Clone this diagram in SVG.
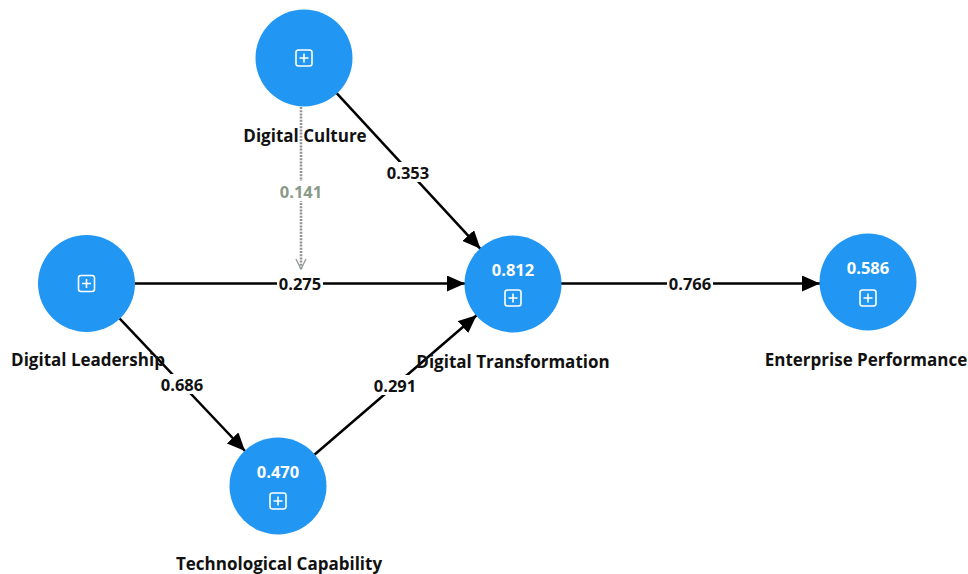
<svg xmlns="http://www.w3.org/2000/svg" width="968" height="574" viewBox="0 0 968 574">
  <defs>
    <style>
      .node circle { fill: #2196f3; }
      .name { font-family: "Open Sans", "Noto Sans", "Liberation Sans", sans-serif; font-weight: 700; font-size: 17px; fill: #111; text-anchor: middle; }
      .val { font-family: "Open Sans", "Noto Sans", "Liberation Sans", sans-serif; font-weight: 700; font-size: 16.5px; fill: #ffffff; text-anchor: middle; }
      .edge { stroke: #000; stroke-width: 2.5; fill: none; }
      .mod { stroke: #8f968f; stroke-width: 2.6; stroke-dasharray: 2 1.2; fill: none; }
      .lbl-bg { fill: #ffffff; }
      .lbl { font-family: "Open Sans", "Noto Sans", "Liberation Sans", sans-serif; font-weight: 700; font-size: 16.5px; fill: #111; text-anchor: middle; dominant-baseline: central; }
      .lbl-mod { fill: #8a9a8a; }
      .icon rect { fill: none; stroke: #ffffff; stroke-width: 1.6; }
      .icon path { stroke: #ffffff; stroke-width: 1.6; fill: none; }
    </style>
    <marker id="arrow" viewBox="0 0 18 16" refX="18" refY="8" markerWidth="18" markerHeight="16" markerUnits="userSpaceOnUse" orient="auto">
      <path d="M0,0 L18,8 L0,16 Z" fill="#000"/>
    </marker>
    <marker id="open" viewBox="0 0 12 12" refX="11" refY="6" markerWidth="12" markerHeight="12" markerUnits="userSpaceOnUse" orient="auto">
      <path d="M1,1 L11,6 L1,11" fill="none" stroke="#9aa09a" stroke-width="1.5"/>
    </marker>
    <g id="plus" class="icon">
      <rect x="-8" y="-8" width="16" height="16" rx="2.5"/>
      <path d="M0,-4.5 V4.5 M-4.5,0 H4.5"/>
    </g>
  </defs>

  <rect width="968" height="574" fill="#ffffff"/>

  <!-- paths between constructs -->
  <g id="connectors">
    <line class="edge" x1="336.6" y1="93.2" x2="480.4" y2="248.8" marker-end="url(#arrow)"/>
    <line class="edge" x1="135" y1="283.5" x2="465" y2="283.5" marker-end="url(#arrow)"/>
    <line class="edge" x1="119.5" y1="318.4" x2="245" y2="451" marker-end="url(#arrow)"/>
    <line class="edge" x1="314.4" y1="454.7" x2="476.6" y2="315.3" marker-end="url(#arrow)"/>
    <line class="edge" x1="561" y1="283.5" x2="820" y2="283.5" marker-end="url(#arrow)"/>
    <line class="mod" x1="301" y1="107" x2="301" y2="269" marker-end="url(#open)"/>

    <rect class="lbl-bg" x="385" y="162" width="46" height="20"/>
    <text class="lbl" x="408" y="172">0.353</text>
    <rect class="lbl-bg" x="277" y="274" width="46" height="19"/>
    <text class="lbl" x="300" y="283.5">0.275</text>
    <rect class="lbl-bg" x="159" y="374" width="46" height="20"/>
    <text class="lbl" x="182" y="384">0.686</text>
    <rect class="lbl-bg" x="372" y="375" width="46" height="20"/>
    <text class="lbl" x="395" y="385">0.291</text>
    <rect class="lbl-bg" x="667" y="274" width="46" height="19"/>
    <text class="lbl" x="690" y="283.5">0.766</text>
    <rect class="lbl-bg" x="278" y="181" width="46" height="20"/>
    <text class="lbl lbl-mod" x="301" y="191">0.141</text>
  </g>

  <g id="digital-culture" class="node">
    <circle cx="304" cy="58" r="48.5"/>
    <use href="#plus" x="304" y="58"/>
    <text class="name" x="305" y="142">Digital Culture</text>
  </g>

  <g id="digital-leadership" class="node">
    <circle cx="86.5" cy="283.5" r="48.5"/>
    <use href="#plus" x="86.5" y="283.5"/>
    <text class="name" x="88" y="366">Digital Leadership</text>
  </g>

  <g id="digital-transformation" class="node">
    <circle cx="513" cy="284" r="48.5"/>
    <text class="val" x="513" y="276">0.812</text>
    <use href="#plus" x="513" y="298"/>
    <text class="name" x="513" y="368">Digital Transformation</text>
  </g>

  <g id="enterprise-performance" class="node">
    <circle cx="868" cy="282" r="48.5"/>
    <text class="val" x="868" y="274">0.586</text>
    <use href="#plus" x="868" y="298"/>
    <text class="name" x="866" y="366">Enterprise Performance</text>
  </g>

  <g id="technological-capability" class="node">
    <circle cx="278" cy="486" r="48.5"/>
    <text class="val" x="278" y="478">0.470</text>
    <use href="#plus" x="278" y="501"/>
    <text class="name" x="279" y="570">Technological Capability</text>
  </g>
</svg>
